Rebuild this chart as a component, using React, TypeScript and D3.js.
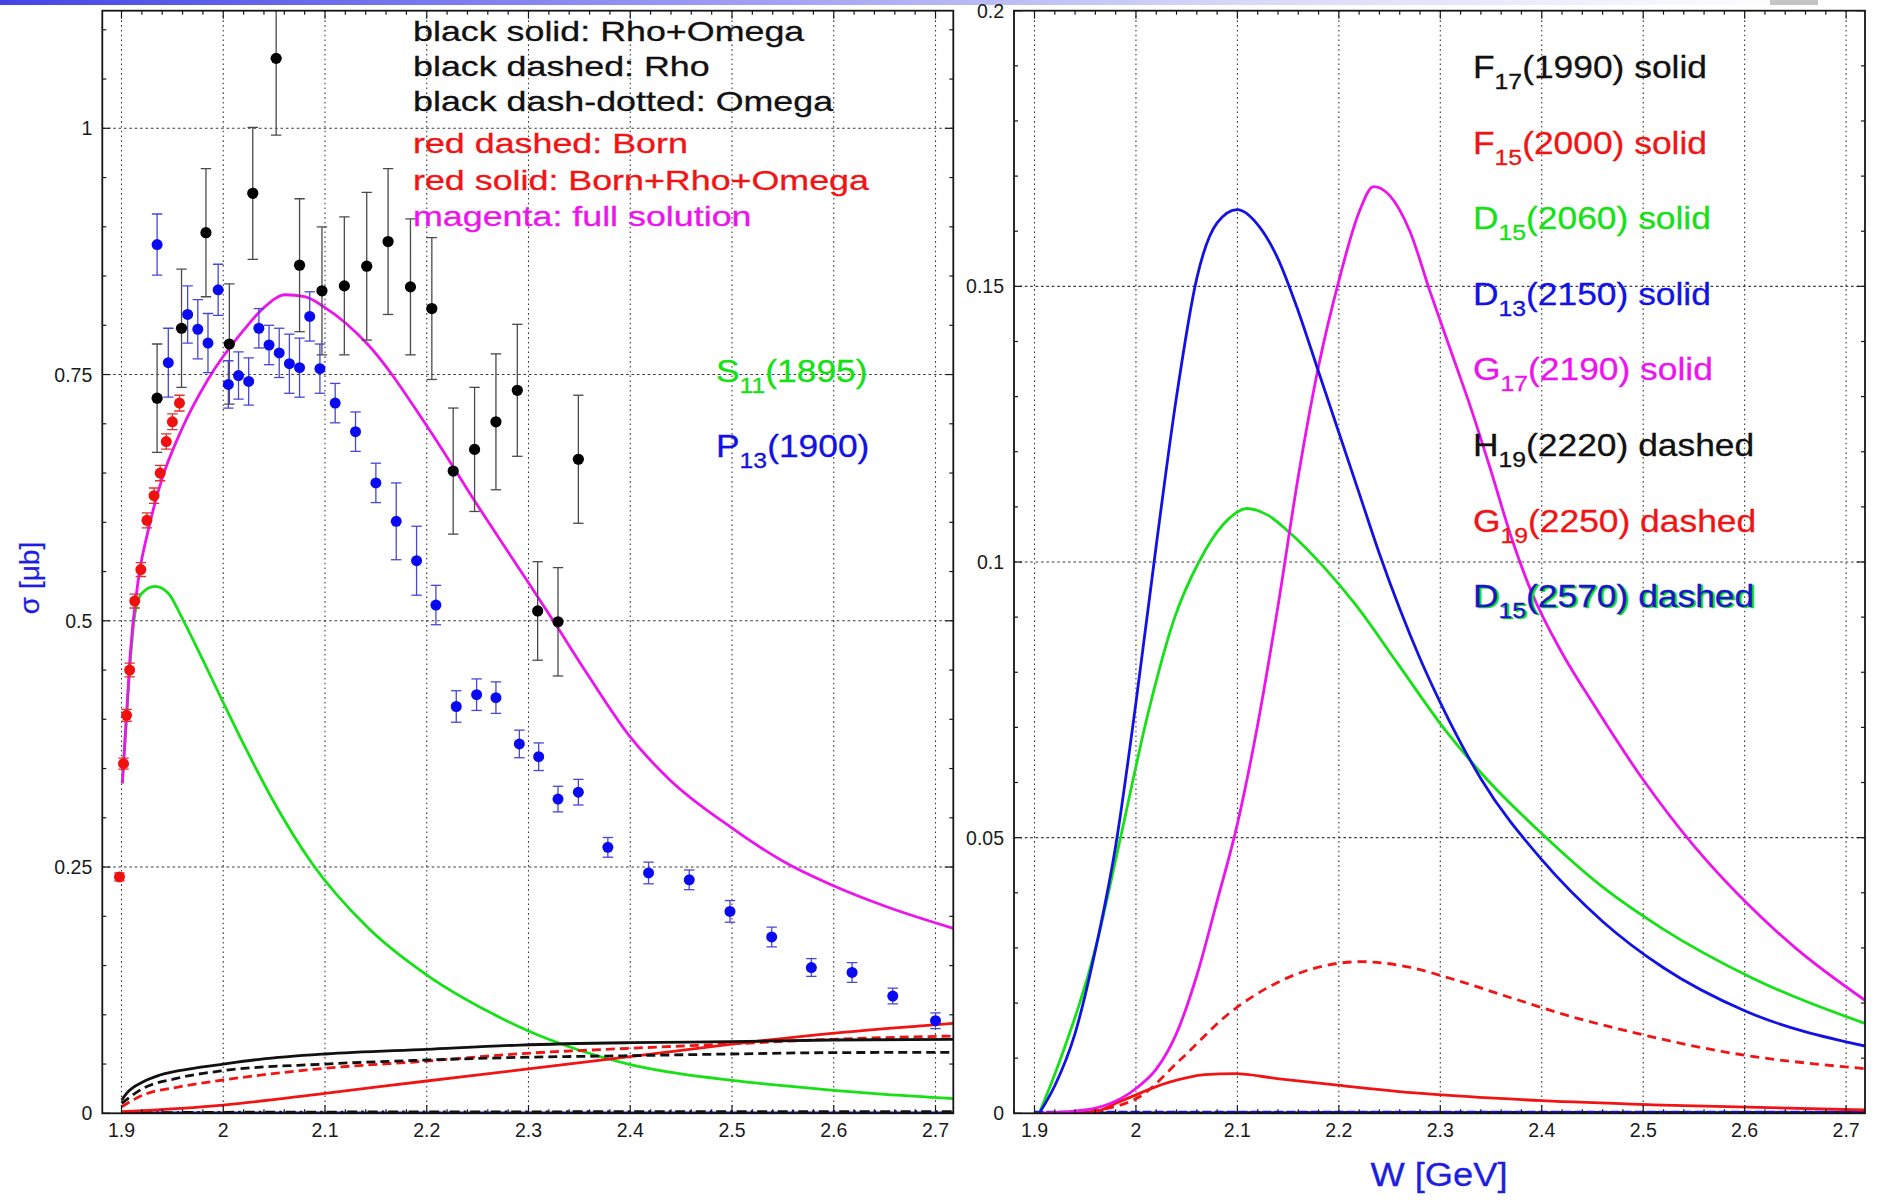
import React from "react";
import * as d3 from "d3";

type Pt = [number, number];

// ---------- axis ticks ----------
const W_TICKS = [1.9, 2.0, 2.1, 2.2, 2.3, 2.4, 2.5, 2.6, 2.7];
const W_TICK_LABELS = ["1.9", "2", "2.1", "2.2", "2.3", "2.4", "2.5", "2.6", "2.7"];
const SIGMA_TICKS = [0, 0.25, 0.5, 0.75, 1];
const SIGMA_TICK_LABELS = ["0", "0.25", "0.5", "0.75", "1"];
const PARTIAL_TICKS = [0, 0.05, 0.1, 0.15, 0.2];
const PARTIAL_TICK_LABELS = ["0", "0.05", "0.1", "0.15", "0.2"];

// ---------- left panel: measured total cross section sigma [μb] ----------
const redW = [1.898, 1.902, 1.905, 1.908, 1.913, 1.919, 1.925, 1.932, 1.938, 1.944, 1.95, 1.957];
const redSigma = [0.24, 0.355, 0.404, 0.45, 0.52, 0.552, 0.602, 0.627, 0.65, 0.682, 0.702, 0.721];
const redErr = [0.004, 0.0055, 0.006, 0.007, 0.007, 0.007, 0.0076, 0.0078, 0.0078, 0.0078, 0.008, 0.008];

const blueW = [1.935, 1.946, 1.965, 1.975, 1.985, 1.995, 2.005, 2.015, 2.025, 2.035, 2.045, 2.055, 2.065, 2.075, 2.085, 2.095, 2.11, 2.13, 2.15, 2.17, 2.19, 2.209, 2.229, 2.249, 2.268, 2.291, 2.31, 2.329, 2.349, 2.378, 2.418, 2.458, 2.498, 2.539, 2.578, 2.618, 2.658, 2.7];
const blueSigma = [0.882, 0.762, 0.811, 0.796, 0.782, 0.836, 0.74, 0.749, 0.743, 0.797, 0.78, 0.772, 0.761, 0.757, 0.809, 0.756, 0.721, 0.692, 0.64, 0.601, 0.561, 0.516, 0.413, 0.425, 0.422, 0.375, 0.362, 0.319, 0.326, 0.27, 0.244, 0.237, 0.205, 0.179, 0.148, 0.143, 0.119, 0.094];
const blueErr = [0.031, 0.035, 0.029, 0.03, 0.03, 0.026, 0.024, 0.024, 0.024, 0.02, 0.02, 0.025, 0.03, 0.03, 0.025, 0.025, 0.02, 0.02, 0.02, 0.039, 0.035, 0.02, 0.016, 0.016, 0.016, 0.014, 0.014, 0.013, 0.013, 0.01, 0.011, 0.01, 0.011, 0.01, 0.009, 0.01, 0.008, 0.008];

const blackW = [1.935, 1.959, 1.983, 2.006, 2.029, 2.052, 2.075, 2.097, 2.119, 2.141, 2.162, 2.184, 2.205, 2.226, 2.247, 2.268, 2.289, 2.309, 2.329, 2.349];
const blackSigma = [0.726, 0.797, 0.894, 0.781, 0.934, 1.071, 0.861, 0.835, 0.84, 0.86, 0.885, 0.839, 0.817, 0.652, 0.674, 0.702, 0.734, 0.51, 0.499, 0.664];
const blackErr = [0.055, 0.06, 0.065, 0.061, 0.067, 0.078, 0.0675, 0.065, 0.07, 0.075, 0.074, 0.069, 0.072, 0.064, 0.063, 0.069, 0.067, 0.05, 0.055, 0.065];

// ---------- left panel: model curves ----------
const s11Curve: Pt[] = [[1.9008, 0.335], [1.9051, 0.406], [1.9085, 0.457], [1.9133, 0.508], [1.92, 0.528], [1.933, 0.535], [1.946, 0.528], [1.959, 0.504], [1.972, 0.4772], [1.9985, 0.4203], [2.021, 0.3727], [2.051, 0.3138], [2.0875, 0.2534], [2.142, 0.1887], [2.202, 0.1391], [2.262, 0.1025], [2.3, 0.0835], [2.35, 0.064], [2.4, 0.0495], [2.45, 0.04], [2.5, 0.0335], [2.55, 0.028], [2.6, 0.0232], [2.65, 0.0192], [2.7175, 0.015]];
const fullSolution: Pt[] = [[1.9008, 0.335], [1.9051, 0.406], [1.9084, 0.4636], [1.9165, 0.5414], [1.9263, 0.592], [1.9395, 0.643], [1.959, 0.694], [1.985, 0.745], [2.02, 0.795], [2.04, 0.818], [2.061, 0.831], [2.08, 0.829], [2.1, 0.818], [2.1417, 0.781], [2.2019, 0.695], [2.25, 0.617], [2.2917, 0.5516], [2.3244, 0.5], [2.3572, 0.447], [2.3998, 0.3823], [2.439, 0.3384], [2.498, 0.291], [2.5537, 0.2538], [2.598, 0.2318], [2.652, 0.2097], [2.7175, 0.1878]];
const rhoOmega: Pt[] = [[1.9002, 0.0135], [1.905, 0.0203], [1.9214, 0.0321], [1.9378, 0.0389], [1.9706, 0.0457], [2.0, 0.05], [2.0361, 0.0548], [2.1, 0.0602], [2.2, 0.065], [2.2917, 0.0693], [2.3998, 0.0717], [2.498, 0.0727], [2.598, 0.0744], [2.7175, 0.0751]];
const rhoOnly: Pt[] = [[1.9002, 0.01], [1.9214, 0.0254], [1.9542, 0.0355], [2.0, 0.0433], [2.1, 0.05], [2.2, 0.0541], [2.2917, 0.0568], [2.3998, 0.0585], [2.498, 0.0602], [2.598, 0.0616], [2.7175, 0.0619]];
const omegaOnly: Pt[] = [[1.9002, 0.0004], [2.0, 0.001], [2.2, 0.0014], [2.4, 0.0016], [2.6, 0.0017], [2.7175, 0.0018]];
const bornOnly: Pt[] = [[1.9002, 0.0067], [1.9214, 0.0186], [1.9542, 0.0264], [2.0, 0.0338], [2.1, 0.0457], [2.2, 0.053], [2.2917, 0.0605], [2.3998, 0.066], [2.498, 0.0704], [2.598, 0.0751], [2.7175, 0.0785]];
const bornRhoOmega: Pt[] = [[1.9002, 0.0016], [2.0, 0.0084], [2.1, 0.0203], [2.2, 0.0328], [2.2917, 0.044], [2.3998, 0.0575], [2.498, 0.07], [2.598, 0.0812], [2.7175, 0.0914]];
const p13Curve: Pt[] = [[1.9002, 0.0003], [2.1, 0.0003], [2.4, 0.0003], [2.7175, 0.0003]];

// ---------- right panel: single-resonance contributions [μb] ----------
const f17_1990: Pt[] = [[1.9, 0.0], [2.2, 0.0001], [2.7186, 0.0001]];
const f15_2000: Pt[] = [[1.9, 0.0], [1.9552, 0.0001], [1.9849, 0.0022], [2.0323, 0.0056], [2.068, 0.007], [2.0976, 0.0072], [2.1391, 0.0063], [2.1986, 0.0051], [2.2816, 0.0036], [2.4002, 0.0023], [2.5189, 0.0015], [2.7186, 0.0006]];
const d15_2060: Pt[] = [[1.9047, 0.0], [1.9255, 0.0098], [1.9611, 0.0306], [1.9849, 0.0501], [2.0116, 0.0723], [2.0383, 0.09], [2.062, 0.1], [2.086, 0.1068], [2.1095, 0.1097], [2.13, 0.1085], [2.1511, 0.1054], [2.1866, 0.0988], [2.2163, 0.0923], [2.2579, 0.0816], [2.3053, 0.0694], [2.3409, 0.0616], [2.4002, 0.0507], [2.4596, 0.0411], [2.5189, 0.0335], [2.6079, 0.0245], [2.7186, 0.0163]];
const d13_2150: Pt[] = [[1.9047, 0.0], [1.92, 0.005], [1.94, 0.0145], [1.96, 0.0296], [1.98, 0.0485], [2.0, 0.0745], [2.02, 0.103], [2.04, 0.13], [2.06, 0.1515], [2.08, 0.1615], [2.1, 0.1639], [2.12, 0.1612], [2.14, 0.155], [2.16, 0.1455], [2.18, 0.1345], [2.2, 0.1235], [2.22, 0.1125], [2.24, 0.1015], [2.26, 0.0915], [2.28, 0.0825], [2.3, 0.0745], [2.34, 0.0607], [2.4, 0.046], [2.46, 0.0348], [2.52, 0.0264], [2.6, 0.0186], [2.7186, 0.0122]];
const g17_2190: Pt[] = [[1.9047, 0.0], [1.95, 0.0006], [2.0, 0.0045], [2.02, 0.008], [2.04, 0.0145], [2.06, 0.025], [2.08, 0.0385], [2.1, 0.0525], [2.12, 0.0705], [2.14, 0.092], [2.16, 0.1155], [2.18, 0.1355], [2.2, 0.151], [2.22, 0.1635], [2.2342, 0.1681], [2.25, 0.1665], [2.27, 0.16], [2.29, 0.149], [2.31, 0.1385], [2.33, 0.128], [2.35, 0.1165], [2.37, 0.1045], [2.39, 0.0945], [2.42, 0.0835], [2.45, 0.0745], [2.5, 0.0605], [2.55, 0.0485], [2.6, 0.0385], [2.65, 0.03], [2.7186, 0.0205]];
const h19_2220: Pt[] = [[1.9, 0.0], [2.3, 0.0001], [2.7186, 0.0001]];
const g19_2250: Pt[] = [[1.9255, 0.0], [1.9552, 0.0004], [2.0027, 0.0029], [2.0442, 0.0098], [2.0917, 0.0181], [2.1391, 0.0237], [2.1866, 0.0268], [2.2222, 0.0275], [2.2697, 0.0265], [2.3112, 0.0244], [2.3706, 0.0209], [2.4299, 0.0175], [2.4893, 0.0147], [2.5783, 0.0112], [2.7186, 0.0081]];
const d15_2570: Pt[] = [[1.9, 0.0002], [2.3, 0.0002], [2.7186, 0.0002]];

// ---------- layout ----------
const FONT = "'Liberation Sans', Arial, Helvetica, sans-serif";
const FRAME_TOP = 10.7;
const FRAME_BOTTOM = 1113.3;
const LEFT_X0 = 102.3;
const LEFT_X1 = 953.3;
const RIGHT_X0 = 1014;
const RIGHT_X1 = 1865;

const C = {
  black: "#111111",
  red: "#f01414",
  green: "#16e016",
  blue: "#1212e4",
  magenta: "#ec14ec",
  grid: "#3a3a3a",
  axisTitle: "#1e1ee0",
};

function stepTicks(lo: number, hi: number, step: number): number[] {
  const a = Math.ceil(lo / step - 1e-6);
  const b = Math.floor(hi / step + 1e-6);
  return d3.range(a, b + 1).map((k) => +(k * step).toFixed(6));
}

type Scale = d3.ScaleLinear<number, number>;

function Grid({ xs, ys, x0, x1, yTicks }: { xs: Scale; ys: Scale; x0: number; x1: number; yTicks: number[] }) {
  return (
    <g>
      {W_TICKS.map((w) => (
        <line key={"gx" + w} x1={xs(w)} x2={xs(w)} y1={FRAME_TOP} y2={FRAME_BOTTOM} stroke={C.grid} strokeWidth={1.1} strokeDasharray="1.6,3.2" />
      ))}
      {yTicks
        .filter((v) => ys(v) > FRAME_TOP + 2 && ys(v) < FRAME_BOTTOM - 2)
        .map((v) => (
          <line key={"gy" + v} x1={x0} x2={x1} y1={ys(v)} y2={ys(v)} stroke={C.grid} strokeWidth={1.1} strokeDasharray="2.6,2.8" />
        ))}
    </g>
  );
}

function Frame({
  xs, ys, x0, x1, yTicks, yLabels, yMinorStep,
}: { xs: Scale; ys: Scale; x0: number; x1: number; yTicks: number[]; yLabels: string[]; yMinorStep: number }) {
  const MAJ = 8;
  const MIN = 4;
  const xMinor = stepTicks(xs.invert(x0), xs.invert(x1), 0.02);
  const yMinor = stepTicks(ys.invert(FRAME_BOTTOM), ys.invert(FRAME_TOP), yMinorStep);
  const isMajorX = (w: number) => W_TICKS.some((t) => Math.abs(t - w) < 1e-6);
  const isMajorY = (v: number) => yTicks.some((t) => Math.abs(t - v) < 1e-6);
  const tk = "#1a1a1a";
  return (
    <g>
      {xMinor.map((w) => {
        const len = isMajorX(w) ? MAJ : MIN;
        const x = xs(w);
        return (
          <g key={"tx" + w}>
            <line x1={x} x2={x} y1={FRAME_BOTTOM} y2={FRAME_BOTTOM - len} stroke={tk} strokeWidth={1.2} />
            <line x1={x} x2={x} y1={FRAME_TOP} y2={FRAME_TOP + len} stroke={tk} strokeWidth={1.2} />
          </g>
        );
      })}
      {yMinor.map((v) => {
        const len = isMajorY(v) ? MAJ : MIN;
        const y = ys(v);
        return (
          <g key={"ty" + v}>
            <line x1={x0} x2={x0 + len} y1={y} y2={y} stroke={tk} strokeWidth={1.2} />
            <line x1={x1} x2={x1 - len} y1={y} y2={y} stroke={tk} strokeWidth={1.2} />
          </g>
        );
      })}
      <rect x={x0} y={FRAME_TOP} width={x1 - x0} height={FRAME_BOTTOM - FRAME_TOP} fill="none" stroke="#151515" strokeWidth={1.8} />
      {W_TICKS.map((w, i) => (
        <text key={"lx" + w} x={xs(w)} y={1136.7} textAnchor="middle" fontFamily={FONT} fontSize={19.5} fill="#1a1a1a">
          {W_TICK_LABELS[i]}
        </text>
      ))}
      {yTicks.map((v, i) => (
        <text key={"ly" + v} x={x0 - 10} y={ys(v)} dy="0.36em" textAnchor="end" fontFamily={FONT} fontSize={19.5} fill="#1a1a1a">
          {yLabels[i]}
        </text>
      ))}
    </g>
  );
}

type Part = string | { sub: string };

function Latex({ x, y, size, sx, color, parts }: { x: number; y: number; size: number; sx: number; color: string; parts: Part[] }) {
  const drop = size * 0.36;
  let raised = false;
  const kids = parts.map((p, i) => {
    if (typeof p === "string") {
      const el = (
        <tspan key={i} dy={raised ? -drop : 0}>
          {p}
        </tspan>
      );
      raised = false;
      return el;
    }
    raised = true;
    return (
      <tspan key={i} fontSize={size * 0.7} dy={drop}>
        {p.sub}
      </tspan>
    );
  });
  return (
    <g transform={`translate(${x},${y}) scale(${sx},1)`}>
      <text x={0} y={0} fontFamily={FONT} fontSize={size} fill={color} stroke={color} strokeWidth={0.3}>
        {kids}
      </text>
    </g>
  );
}

function ErrPoints({ xs, ys, w, v, e, color, barColor, r }: { xs: Scale; ys: Scale; w: number[]; v: number[]; e: number[]; color: string; barColor: string; r: number }) {
  const cap = 5.2;
  return (
    <g>
      {w.map((wi, i) => {
        const x = xs(wi);
        const yT = ys(v[i] + e[i]);
        const yB = ys(v[i] - e[i]);
        return (
          <g key={i}>
            <line x1={x} x2={x} y1={yT} y2={yB} stroke={barColor} strokeWidth={1.3} />
            <line x1={x - cap} x2={x + cap} y1={yT} y2={yT} stroke={barColor} strokeWidth={1.3} />
            <line x1={x - cap} x2={x + cap} y1={yB} y2={yB} stroke={barColor} strokeWidth={1.3} />
            <circle cx={x} cy={ys(v[i])} r={r} fill={color} />
          </g>
        );
      })}
    </g>
  );
}

export default function App() {
  const xL = d3.scaleLinear().domain([1.9, 2.7]).range([121.5, 935.5]);
  const yL = d3.scaleLinear().domain([0, 1]).range([FRAME_BOTTOM, 128.3]);
  const xR = d3.scaleLinear().domain([1.9, 2.7]).range([1034.5, 1846.1]);
  const yR = d3.scaleLinear().domain([0, 0.2]).range([FRAME_BOTTOM, FRAME_TOP]);

  const mkPath = (xs: Scale, ys: Scale) => (pts: Pt[]) =>
    d3
      .line<Pt>()
      .x((d) => xs(d[0]))
      .y((d) => ys(d[1]))
      .curve(d3.curveMonotoneX)(pts) ?? "";
  const pL = mkPath(xL, yL);
  const pR = mkPath(xR, yR);
  const LW = 2.8;

  const leftLegend: { text: string; color: string; y: number }[] = [
    { text: "black solid: Rho+Omega", color: C.black, y: 41 },
    { text: "black dashed: Rho", color: C.black, y: 76 },
    { text: "black dash-dotted: Omega", color: C.black, y: 111 },
    { text: "red dashed: Born", color: C.red, y: 153 },
    { text: "red solid: Born+Rho+Omega", color: C.red, y: 190 },
    { text: "magenta: full solution", color: C.magenta, y: 226 },
  ];

  const rightLegend: { name: string; sub: string; rest: string; color: string }[] = [
    { name: "F", sub: "17", rest: "(1990) solid", color: C.black },
    { name: "F", sub: "15", rest: "(2000) solid", color: C.red },
    { name: "D", sub: "15", rest: "(2060) solid", color: C.green },
    { name: "D", sub: "13", rest: "(2150) solid", color: C.blue },
    { name: "G", sub: "17", rest: "(2190) solid", color: C.magenta },
    { name: "H", sub: "19", rest: "(2220) dashed", color: C.black },
    { name: "G", sub: "19", rest: "(2250) dashed", color: C.red },
  ];

  return (
    <svg width={1884} height={1200} style={{ position: "absolute", left: 0, top: 0, background: "#ffffff" }}>
      <defs>
        <linearGradient id="topBand" x1="0" x2="1" y1="0" y2="0">
          <stop offset="0" stopColor="#4444e6" />
          <stop offset="0.3" stopColor="#8a8af2" />
          <stop offset="0.65" stopColor="#d6d6f8" />
          <stop offset="0.95" stopColor="#ffffff" />
        </linearGradient>
        <clipPath id="clipLeft">
          <rect x={LEFT_X0} y={FRAME_TOP} width={LEFT_X1 - LEFT_X0} height={FRAME_BOTTOM - FRAME_TOP} />
        </clipPath>
        <clipPath id="clipRight">
          <rect x={RIGHT_X0} y={FRAME_TOP} width={RIGHT_X1 - RIGHT_X0} height={FRAME_BOTTOM - FRAME_TOP} />
        </clipPath>
      </defs>
      <rect x={0} y={0} width={1884} height={1200} fill="#ffffff" />
      <rect x={0} y={0} width={1884} height={5} fill="url(#topBand)" />
      <rect x={1770} y={0} width={48} height={5} fill="#c4c4c4" />

      {/* ---------- left panel ---------- */}
      <Grid xs={xL} ys={yL} x0={LEFT_X0} x1={LEFT_X1} yTicks={SIGMA_TICKS} />
      <g clipPath="url(#clipLeft)" fill="none" strokeWidth={LW}>
        <path d={pL(p13Curve)} stroke={C.blue} strokeWidth={3.2} />
        <path d={pL(omegaOnly)} stroke={C.black} strokeDasharray="10,4,2.5,4" />
        <path d={pL(s11Curve)} stroke={C.green} />
        <path d={pL(bornRhoOmega)} stroke={C.red} />
        <path d={pL(bornOnly)} stroke={C.red} strokeDasharray="9,5" />
        <path d={pL(rhoOnly)} stroke={C.black} strokeDasharray="9,5" />
        <path d={pL(rhoOmega)} stroke={C.black} />
        <path d={pL(fullSolution)} stroke={C.magenta} />
      </g>
      <g clipPath="url(#clipLeft)">
        <ErrPoints xs={xL} ys={yL} w={blackW} v={blackSigma} e={blackErr} color="#000000" barColor="#4a4a4a" r={5.6} />
        <ErrPoints xs={xL} ys={yL} w={blueW} v={blueSigma} e={blueErr} color="#0a0af0" barColor="#4646d8" r={5.5} />
        <ErrPoints xs={xL} ys={yL} w={redW} v={redSigma} e={redErr} color="#f01010" barColor="#e03030" r={5.5} />
      </g>
      <Frame xs={xL} ys={yL} x0={LEFT_X0} x1={LEFT_X1} yTicks={SIGMA_TICKS} yLabels={SIGMA_TICK_LABELS} yMinorStep={0.05} />

      {/* ---------- right panel ---------- */}
      <Grid xs={xR} ys={yR} x0={RIGHT_X0} x1={RIGHT_X1} yTicks={PARTIAL_TICKS} />
      <g clipPath="url(#clipRight)" fill="none" strokeWidth={LW}>
        <path d={pR(f17_1990)} stroke={C.black} />
        <path d={pR(h19_2220)} stroke={C.black} strokeDasharray="9,5" />
        <path d={pR(d15_2570)} stroke={C.blue} strokeDasharray="9,3" strokeWidth={3} />
        <path d={pR(f15_2000)} stroke={C.red} />
        <path d={pR(g19_2250)} stroke={C.red} strokeDasharray="9,6" />
        <path d={pR(d15_2060)} stroke={C.green} />
        <path d={pR(g17_2190)} stroke={C.magenta} />
        <path d={pR(d13_2150)} stroke={C.blue} />
      </g>
      <Frame xs={xR} ys={yR} x0={RIGHT_X0} x1={RIGHT_X1} yTicks={PARTIAL_TICKS} yLabels={PARTIAL_TICK_LABELS} yMinorStep={0.01} />

      {/* ---------- annotations ---------- */}
      {leftLegend.map((l) => (
        <g key={l.text} transform={`translate(413,${l.y}) scale(1.28,1)`}>
          <text fontFamily={FONT} fontSize={28} fill={l.color} stroke={l.color} strokeWidth={0.3}>
            {l.text}
          </text>
        </g>
      ))}
      <Latex x={716} y={382} size={30.5} sx={1.16} color={C.green} parts={["S", { sub: "11" }, "(1895)"]} />
      <Latex x={716} y={457} size={30.5} sx={1.16} color={C.blue} parts={["P", { sub: "13" }, "(1900)"]} />

      {rightLegend.map((l, i) => (
        <Latex key={i} x={1473} y={78 + 75.6 * i} size={30.5} sx={1.16} color={l.color} parts={[l.name, { sub: l.sub }, l.rest]} />
      ))}
      <Latex x={1475} y={608} size={30.5} sx={1.16} color={C.green} parts={["D", { sub: "15" }, "(2570) dashed"]} />
      <Latex x={1473} y={607.2} size={30.5} sx={1.16} color="#1616d0" parts={["D", { sub: "15" }, "(2570) dashed"]} />

      {/* axis titles */}
      <g transform="translate(39,578) rotate(-90)">
        <text textAnchor="middle" fontFamily={FONT} fontSize={28} fill={C.axisTitle} stroke={C.axisTitle} strokeWidth={0.3}>
          σ [μb]
        </text>
      </g>
      <g transform="translate(1439,1185.5) scale(1.1,1)">
        <text textAnchor="middle" fontFamily={FONT} fontSize={33} fill={C.axisTitle} stroke={C.axisTitle} strokeWidth={0.3}>
          W [GeV]
        </text>
      </g>
    </svg>
  );
}
